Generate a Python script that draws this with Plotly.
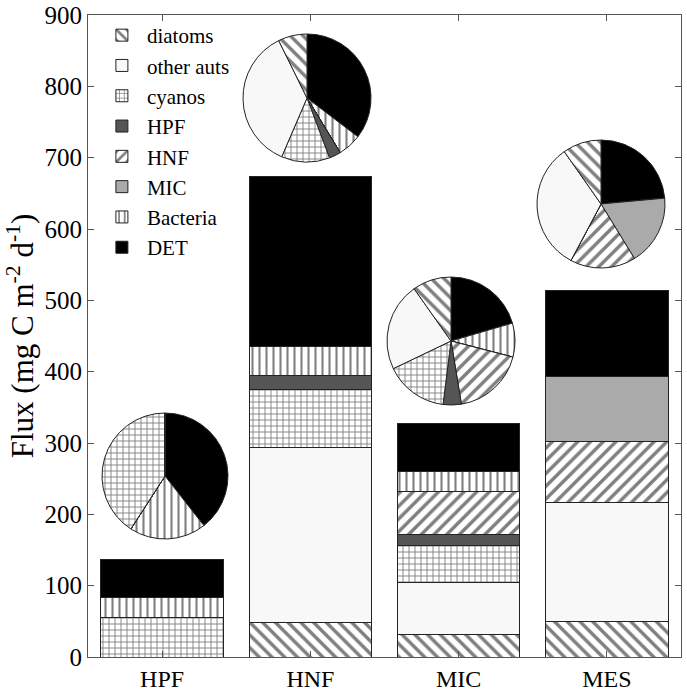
import plotly.graph_objects as go

categories = ["HPF", "HNF", "MIC", "MES"]
groups = ["diatoms", "other auts", "cyanos", "HPF", "HNF", "MIC", "Bacteria", "DET"]

diatoms    = [0, 49, 32, 50]
other_auts = [0, 244, 73, 167]
cyanos     = [56, 82, 52, 0]
hpf        = [0, 20, 15, 0]
hnf        = [0, 0, 60, 85]
mic        = [0, 0, 0, 91]
bacteria   = [27, 40, 28, 0]
det        = [54, 238, 67, 121]

series = [diatoms, other_auts, cyanos, hpf, hnf, mic, bacteria, det]

# style per group: (pattern shape, background colour)
styles = {
    "diatoms": ("\\", "white"),
    "other auts": ("", "#f8f8f8"),
    "cyanos": ("+", "white"),
    "HPF": ("", "#555555"),
    "HNF": ("/", "white"),
    "MIC": ("", "#aaaaaa"),
    "Bacteria": ("|", "white"),
    "DET": ("", "black"),
}
psize = {"diatoms": 9, "cyanos": 6, "HNF": 9, "Bacteria": 7}
psolid = {"diatoms": 0.38, "cyanos": 0.28, "HNF": 0.38, "Bacteria": 0.3}

FONT = "Liberation Serif, Times New Roman, serif"
W, H = 687, 691
ML, MR, MT, MB = 88, 6, 15, 34
PW, PH = W - ML - MR, H - MT - MB

fig = go.Figure()
for name, vals in zip(groups, series):
    shape, bg = styles[name]
    pattern = dict(shape=shape, fgcolor="black", bgcolor=bg,
                   size=psize.get(name, 8), solidity=psolid.get(name, 0.2),
                   fillmode="overlay")
    fig.add_trace(go.Bar(
        x=categories, y=vals, name=name,
        marker=dict(color=bg, line=dict(color="#222222", width=1), pattern=pattern),
    ))

# pie charts (centre px, radius px)
pie_pos = [(165, 476, 63), (307, 98, 64), (451, 341, 64), (601, 204, 64)]
pie_order = list(reversed(range(len(groups))))  # DET first, clockwise
for ci, (cx, cy, r) in enumerate(pie_pos):
    vals = [series[g][ci] for g in pie_order]
    labs = [groups[g] for g in pie_order]
    shapes = [styles[groups[g]][0] for g in pie_order]
    bgs = [styles[groups[g]][1] for g in pie_order]
    sizes = [psize.get(groups[g], 8) for g in pie_order]
    solids = [psolid.get(groups[g], 0.2) for g in pie_order]
    fig.add_trace(go.Pie(
        values=vals, labels=labs, sort=False, direction="clockwise", rotation=0,
        textinfo="none", hoverinfo="label+value", showlegend=False,
        marker=dict(colors=bgs, line=dict(color="#222222", width=1),
                    pattern=dict(shape=shapes, fgcolor="black", bgcolor=bgs,
                                 size=sizes, solidity=solids, fillmode="overlay")),
        domain=dict(x=[(cx - r - ML) / PW, (cx + r - ML) / PW],
                    y=[(H - MB - (cy + r)) / PH, (H - MB - (cy - r)) / PH]),
    ))

fig.update_layout(
    width=W, height=H,
    margin=dict(l=ML, r=MR, t=MT, b=MB, autoexpand=False),
    barmode="stack", bargap=0.174,
    plot_bgcolor="white", paper_bgcolor="white",
    font=dict(family=FONT, size=25, color="black"),
    legend=dict(x=0.015, y=1.0, xanchor="left", yanchor="top",
                traceorder="normal", font=dict(family=FONT, size=21),
                bgcolor="rgba(255,255,255,0)", itemwidth=40),
    xaxis=dict(range=[-0.5, 3.5], showline=True, linecolor="#555555", mirror="ticks",
               ticks="inside", ticklen=6, tickcolor="#555555", ticklabelstandoff=0,
               automargin=False, tickfont=dict(family=FONT, size=24)),
    yaxis=dict(range=[0, 900], dtick=100, showline=True, linecolor="#555555",
               mirror="ticks", ticks="inside", ticklen=6, tickcolor="#555555",
               showgrid=False, zeroline=False, automargin=False,
               tickfont=dict(family=FONT, size=25),
               title=dict(text="Flux (mg C m<sup>-2</sup> d<sup>-1</sup>)",
                          font=dict(family=FONT, size=31), standoff=1)),
)

fig.write_html("out.html", config={"displayModeBar": False},
               post_script="document.body.style.margin='0';document.body.style.overflow='hidden';")
